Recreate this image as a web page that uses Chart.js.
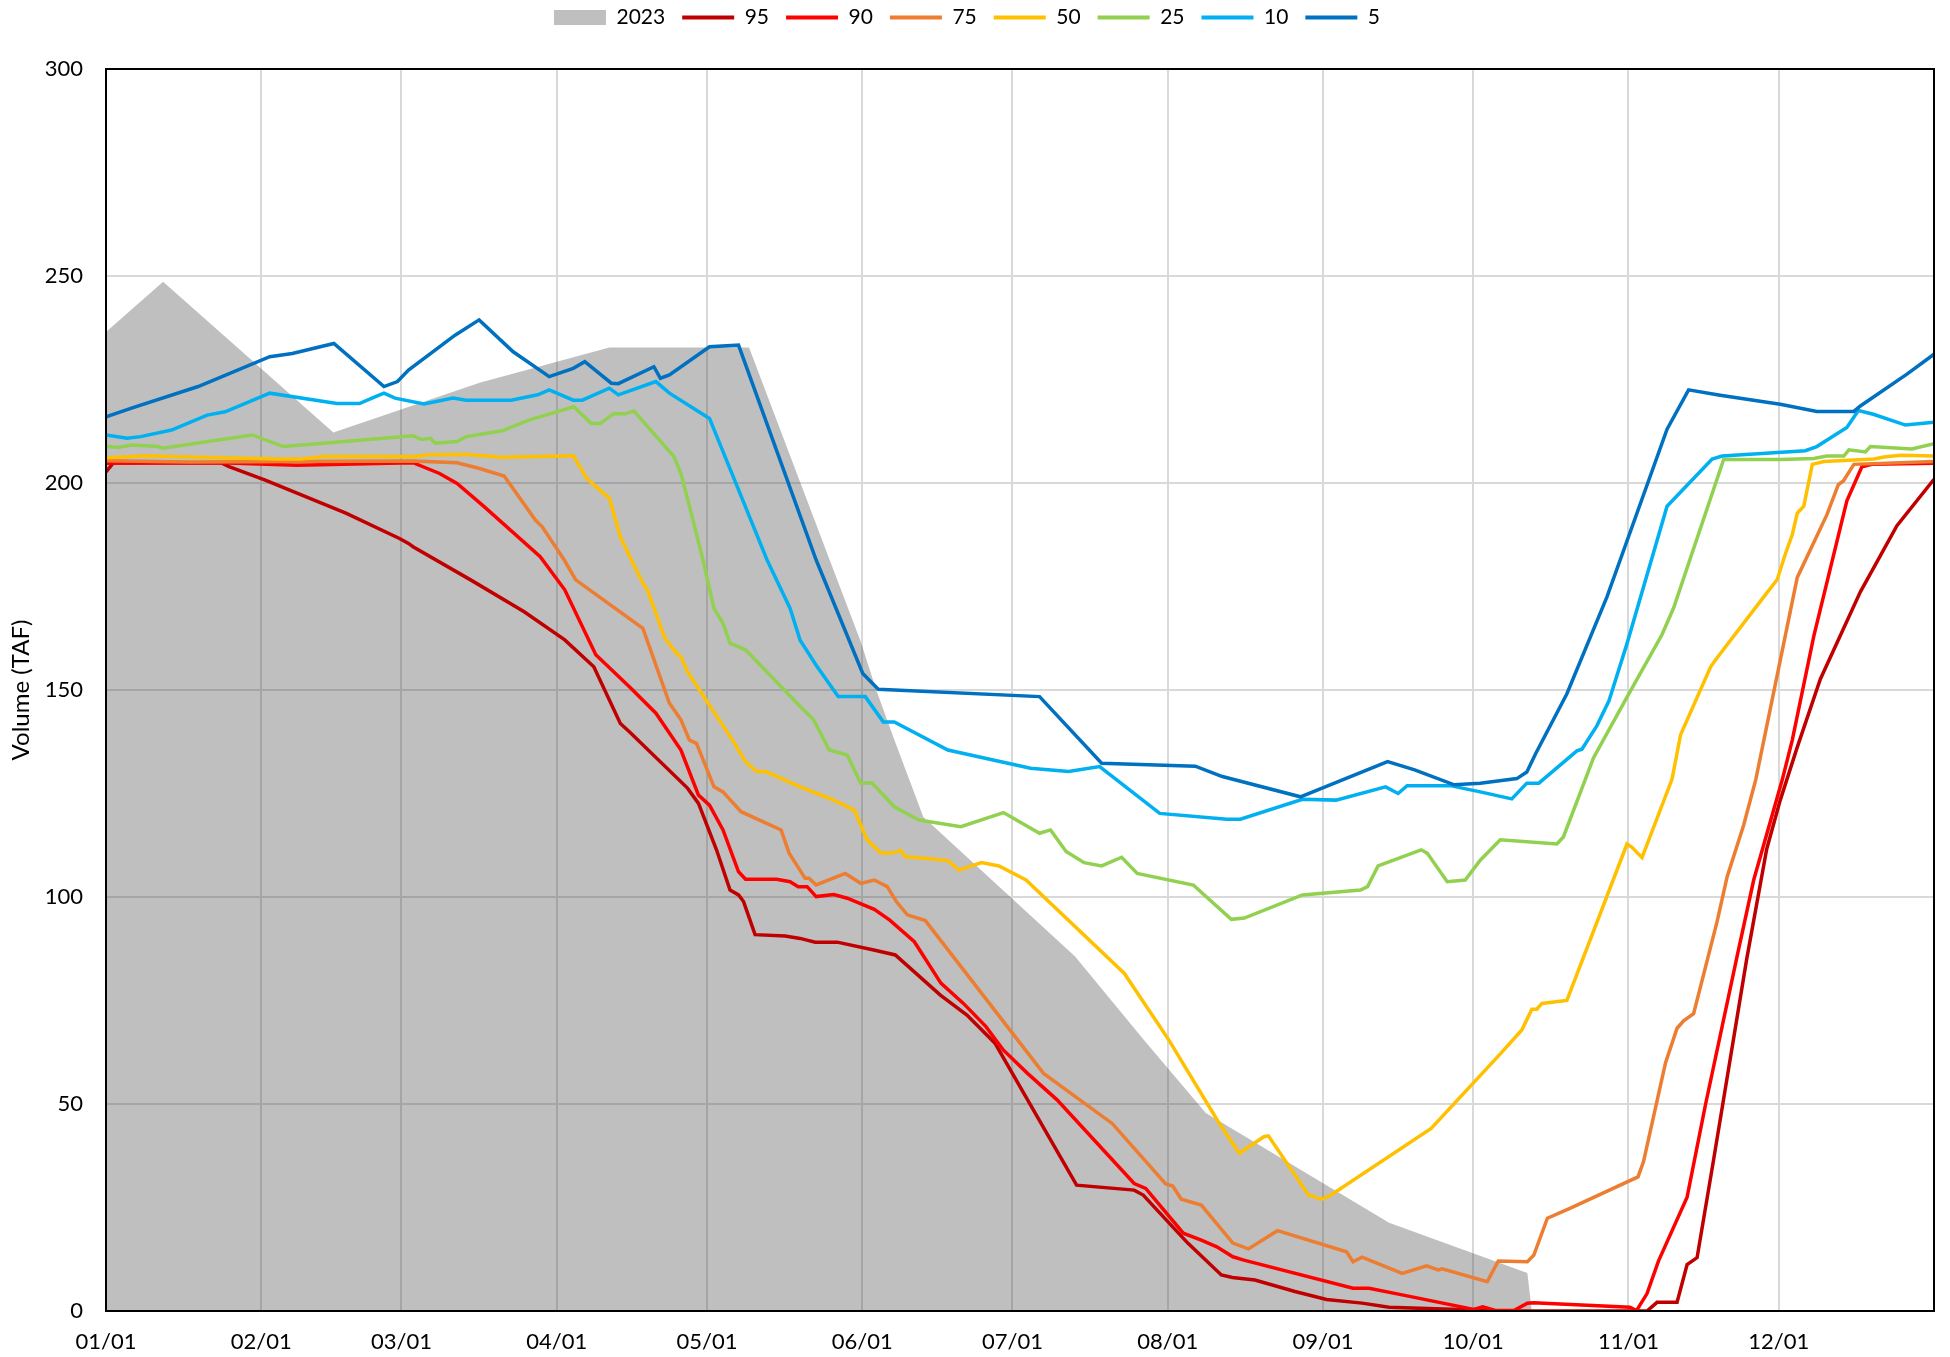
<!DOCTYPE html>
<html>
<head>
<meta charset="utf-8">
<script src="https://cdn.jsdelivr.net/npm/chart.js@4.4.1/dist/chart.umd.min.js"></script>
<style>
  html, body { margin: 0; padding: 0; background: #fff; }
</style>
</head>
<body>
<canvas id="meuGrafico" width="1950" height="1357"></canvas>
<script>
// eixo x em dias desde 01/01
const diasInicioMes = [0, 31, 59, 90, 120, 151, 181, 212, 243, 273, 304, 334];
const rotulosMes = ['01/01', '02/01', '03/01', '04/01', '05/01', '06/01', '07/01', '08/01', '09/01', '10/01', '11/01', '12/01'];

// [dia, volume TAF]
const serie2023 = [[0,236.5],[11.4,248.6],[45.4,212.2],[74.6,224.2],[100.5,232.7],[128.4,232.7],[144.5,181.4],[150.6,162],[153.8,150],[157.4,138],[163.2,119.3],[193.5,85.6],[207.2,65.5],[219.6,47.8],[256.2,21.3],[283.8,9.2],[284.7,0]];

const p95 = [[0,202.7],[1.5,204.9],[22.9,204.9],[24.7,203.9],[31.8,200.7],[47.9,192.7],[58.6,186.6],[60.4,185.4],[61.3,184.6],[72.8,176.6],[83.5,168.9],[91.6,162.1],[97.4,155.6],[102.7,141.9],[104.5,139.9],[116.1,126.3],[118.3,122.6],[121.9,111.4],[124.6,101.7],[126.3,100.5],[127.3,98.9],[129.6,90.9],[135.6,90.6],[138.6,90],[141.6,89.1],[146,89.1],[153.3,87.2],[157.6,86],[166.6,76.3],[171.9,71.5],[177.5,64.7],[193.8,30.4],[205.3,29.2],[207.1,28],[216,16.4],[222.7,8.7],[224.9,8.1],[229.4,7.5],[237.4,4.7],[243.7,2.8],[250.8,1.9],[256.2,0.9],[268.6,0.4],[277.6,0],[307.7,0],[309.7,2.1],[313.7,2.1],[315.7,11.2],[317.7,12.9],[321,36.6],[327.6,85],[331.6,111.6],[334.3,123.4],[337.7,136.2],[342.3,152.6],[350.3,173.7],[357.6,189.7],[365,200.9]];

const p90 = [[0,204.8],[22.9,204.9],[38.1,204.3],[61.3,204.9],[66.6,202.3],[70.1,199.9],[75.5,194.3],[86.7,182.2],[91.6,174.2],[97.8,158.5],[104.5,150.8],[109.8,144.4],[114.8,135.5],[118.3,124.6],[120.5,122.2],[123.2,116.2],[126.3,106.1],[127.7,104.3],[133.9,104.3],[136.6,103.7],[138.2,102.5],[140,102.5],[141.8,100.1],[145.3,100.6],[148,99.7],[153.4,97],[156.5,94.4],[161.4,89.2],[166.7,79.2],[171.2,74.3],[175.7,68.7],[179.2,63],[184,57.4],[189.9,51],[205.3,30.8],[207.6,29.6],[215.1,18.8],[218.7,17.1],[221.8,15.5],[225,13.1],[227.2,12.3],[249,5.5],[252.2,5.5],[258.8,3.9],[273.1,0.4],[274.9,1],[277.6,0.1],[281.1,0.1],[283.8,1.9],[285,2],[304.3,0.9],[305.6,0.1],[307.7,4.2],[310,12.1],[315.7,27.5],[319.4,50],[325.7,85.8],[329,104.1],[334.7,128.3],[336.7,137.9],[341,163],[347.6,195.7],[350.6,203.9],[352.6,204.5],[365,204.8]];

const p75 = [[0,205.4],[16.6,205.1],[61.3,205.3],[70.1,204.9],[74.6,203.5],[79.5,201.7],[85.7,191.1],[87.1,189.4],[91.5,181.4],[93.8,176.6],[107.2,164.9],[112.5,146.8],[114.8,142.8],[116.5,137.9],[117.9,137.1],[121.4,126.6],[123.2,125.4],[126.8,120.6],[134.8,116.2],[136.4,110.6],[139.6,104.5],[140.4,104.5],[141.8,102.9],[147.6,105.7],[150.7,103.3],[153.4,104.1],[156,102.5],[157.8,98.9],[160,95.7],[163.6,94.3],[187.2,57.4],[200.9,45.3],[211.6,30.7],[213,30.2],[214.7,27],[218.7,25.6],[225,16.4],[228.1,15],[233.9,19.4],[247.7,14.3],[249,11.9],[250.8,13],[258.8,9.1],[263.7,10.9],[266,9.9],[266.8,10.2],[275.8,7.1],[278,12.1],[283.8,11.9],[285.1,13.5],[287.8,22.4],[292.3,24.8],[305.9,32.4],[307,36.1],[309.4,49.1],[311.4,60],[313.7,68.3],[315,70.1],[317,71.8],[321.7,94.1],[323.7,104.9],[327,117.4],[329.4,128.3],[337.7,177.2],[343.6,192.3],[345.9,199.6],[346.9,200.5],[349,204.5],[365,205.2]];

const p50 = [[0,206.1],[7.8,206.6],[13.1,206.4],[34.5,205.8],[39,205.8],[43.4,206.4],[61.3,206.4],[64.8,206.8],[71.9,206.9],[79.1,206.2],[93.3,206.6],[96,201.1],[100.5,196.3],[102.7,187],[104.9,181.4],[107.2,175.8],[108.1,174.2],[111.6,162.5],[113.9,158.9],[114.8,158],[116.1,154.4],[125.5,137.1],[127.7,132.7],[129.9,130.3],[131.7,130.3],[138.6,126.6],[145.3,123.4],[149.4,121],[152,113.8],[154.7,110.6],[156.9,110.6],[158.7,111.2],[159.6,109.7],[164,109.3],[168.1,108.8],[170.3,106.5],[174.8,108.3],[178.3,107.5],[183.7,104.1],[203.3,81.6],[212.2,65.5],[222.3,45.3],[226.3,38.1],[231.2,42.1],[232.1,42.3],[240.1,28],[242.8,27],[244.6,28],[264.6,44.1],[278.4,62.1],[282.7,67.9],[284.7,72.9],[285.7,72.9],[286.7,74.3],[291.7,75],[303.7,112.8],[304.7,112],[306.7,109.5],[312.7,128.5],[314.4,139.2],[320.4,155.6],[321.7,157.8],[330.7,172],[333.7,176.7],[335.3,182.8],[336.7,187.5],[337.7,192.7],[339,194.4],[340.7,204.5],[343,205.2],[353,205.8],[355,206.3],[358.3,206.7],[365,206.5]];

const p25 = [[0,208.9],[2.4,208.6],[5.1,209.2],[10.4,208.8],[11.3,208.4],[29.2,211.6],[35.4,208.8],[43.4,209.6],[61.3,211.4],[63,210.5],[64.8,210.8],[65.7,209.6],[70.1,210],[71.9,211.2],[79.1,212.6],[84.4,215.2],[93.4,218.4],[96.9,214.4],[98.7,214.4],[101.4,216.8],[103.6,216.7],[105.4,217.4],[113.4,206.4],[114.8,202.3],[117,192],[119.2,181.4],[121.4,169.7],[123.2,166.1],[124.6,161.3],[127.7,159.7],[138.6,146],[141.3,142.8],[144.4,135.5],[148,134.3],[150.7,127.5],[152.9,127.6],[157.4,121.8],[162.3,118.6],[170.7,117],[179.2,120.4],[186.4,115.4],[188.6,116.2],[191.7,111],[195.3,108.3],[198.8,107.5],[202.8,109.6],[205.9,105.7],[217.1,102.9],[224.7,94.6],[227.3,94.9],[238.9,100.5],[250.5,101.7],[251.9,102.5],[254,107.5],[262.6,111.4],[263.8,110.6],[267.8,103.7],[271.4,104.1],[274.4,108.9],[278.4,113.8],[289.7,112.8],[291,114.5],[295.4,128.5],[297,133.6],[303.7,148.3],[310.7,163.4],[313,169.8],[323,205.7],[334.3,205.7],[341,205.9],[343.6,206.5],[347,206.5],[348,208],[351.3,207.5],[352.3,208.8],[360.6,208.2],[365,209.5]];

const p10 = [[0,211.6],[4.2,210.8],[6.9,211.2],[13.1,212.8],[20.2,216.4],[23.8,217.2],[32.7,221.7],[46.1,219.2],[50.6,219.2],[53.7,220.8],[55.5,221.7],[57.7,220.5],[63.5,219.1],[69.3,220.5],[71.9,220],[80.9,220],[86.2,221.3],[88.5,222.5],[93.3,220],[95.1,220],[100.5,222.9],[102.3,221.3],[109.8,224.5],[112.5,221.7],[120.5,215.6],[132,181.4],[136.6,169.7],[138.6,162],[141.8,156],[146.2,148.4],[151.6,148.4],[155.2,142.3],[157.4,142.3],[168.1,135.5],[184.6,131.1],[192.2,130.3],[198.4,131.5],[210.4,120.2],[223.8,118.8],[226.5,118.8],[238.9,123.6],[245.6,123.4],[255.5,126.6],[258,125],[259.8,126.9],[268.4,126.9],[274.4,125.4],[280.7,123.7],[283.7,127.5],[286.1,127.5],[293.7,135.3],[294.7,135.7],[297.7,141.4],[300.1,147.4],[303.7,161.2],[311.7,194.4],[320.7,205.8],[322.7,206.5],[339.3,207.8],[341.6,208.8],[347.6,213.4],[349.9,217.5],[352.9,216.6],[359.3,214],[365,214.7]];

const p5 = [[0,216],[5.1,218.1],[18.4,223.3],[32.7,230.5],[37.2,231.3],[45.5,233.7],[55.5,223.3],[58.2,224.5],[60.4,227.3],[69.7,235.7],[74.5,239.4],[81.3,231.7],[88.5,225.7],[93.3,227.7],[95.6,229.3],[100.9,224.1],[102.3,224],[109.4,228.1],[110.7,225.3],[112.5,226.1],[120.5,232.9],[126.3,233.3],[141.8,181.4],[151.1,154],[154.2,150.2],[186.4,148.4],[198.8,132.3],[217.5,131.6],[222.9,129.1],[238.5,124.2],[255.9,132.7],[261.3,130.7],[269.2,127.1],[274.4,127.5],[281.7,128.6],[283.7,130.2],[285.4,134.5],[291.7,149.1],[299.7,172.5],[311.7,213],[316,222.5],[322.3,221.2],[334.3,219],[341.6,217.3],[349,217.3],[350.3,218.6],[359.6,226.3],[365,231.1]];

const nomesSeries = ['95', '90', '75', '50', '25', '10', '5'];
const valoresSeries = [p95, p90, p75, p50, p25, p10, p5];
const coresSeries = ['#c00000', '#ff0000', '#ed7d31', '#ffc000', '#92d050', '#00b0f0', '#0070c0'];

const familia = 'Lato, "Liberation Sans", Arial, sans-serif';
const fonteEixo = { family: familia, size: 22 };
const fonteLegenda = { family: familia, size: 21 };
const fonteTitulo = { family: familia, size: 24 };

function paraPontos(lista) {
  return lista.map((p) => ({ x: p[0], y: p[1] }));
}

// moldura preta em volta da area do grafico
const moldura = {
  id: 'moldura',
  afterDatasetsDraw(grafico) {
    const { ctx, chartArea } = grafico;
    ctx.save();
    ctx.strokeStyle = '#000';
    ctx.lineWidth = 2;
    ctx.strokeRect(chartArea.left, chartArea.top, chartArea.right - chartArea.left, chartArea.bottom - chartArea.top);
    ctx.restore();
  },
};

// altura fixa da legenda para o topo do grafico ficar no lugar
const ajusteLegenda = {
  id: 'ajusteLegenda',
  afterInit(grafico) {
    const legenda = grafico.legend;
    const fitOriginal = legenda.fit.bind(legenda);
    legenda.fit = () => {
      fitOriginal();
      legenda.height = 79;
    };
  },
};

function criarGrafico() {
  const canvas = document.getElementById('meuGrafico');
  let contexto = canvas.getContext('2d');

  let conjuntos = [
    {
      label: '2023',
      data: paraPontos(serie2023),
      fill: 'origin',
      backgroundColor: 'rgba(56,56,56,0.32)',
      borderColor: 'rgba(0,0,0,0)',
      borderWidth: 0,
      pointRadius: 0,
      pointStyle: 'rect',
      order: 8,
    },
  ];
  valoresSeries.forEach((serie, i) => {
    conjuntos.push({
      label: nomesSeries[i],
      data: paraPontos(serie),
      borderColor: coresSeries[i],
      backgroundColor: coresSeries[i],
      borderWidth: 3.5,
      pointRadius: 0,
      pointStyle: 'line',
      fill: false,
      tension: 0,
      order: 7 - i,
    });
  });

  let grafico = new Chart(contexto, {
    type: 'line',
    data: { datasets: conjuntos },
    options: {
      responsive: false,
      animation: false,
      devicePixelRatio: 1,
      layout: { padding: { top: -10, right: 16, bottom: 0, left: 0 } },
      plugins: {
        tooltip: { enabled: false },
        legend: {
          position: 'top',
          reverse: true,
          labels: {
            usePointStyle: true,
            pointStyleWidth: 52,
            boxHeight: 15,
            padding: 17,
            color: '#000',
            font: fonteLegenda,
            generateLabels: (g) =>
              Chart.defaults.plugins.legend.labels.generateLabels(g).map((r) => {
                if (r.pointStyle === 'line') r.lineWidth = 4;
                return r;
              }),
          },
        },
      },
      scales: {
        x: {
          type: 'linear',
          min: 0,
          max: 365,
          afterBuildTicks: (eixo) => {
            eixo.ticks = diasInicioMes.map((d) => ({ value: d }));
          },
          afterFit: (eixo) => {
            eixo.height = 46;
          },
          ticks: {
            autoSkip: false,
            maxRotation: 0,
            padding: 18,
            color: '#000',
            font: fonteEixo,
            callback: (valor, indice) => rotulosMes[indice],
          },
          grid: { color: '#d9d9d9', lineWidth: 2, drawTicks: false },
          border: { display: false },
        },
        y: {
          min: 0,
          max: 300,
          afterFit: (eixo) => {
            eixo.width = 106;
          },
          ticks: { stepSize: 50, padding: 23, color: '#000', font: fonteEixo },
          grid: { color: '#d9d9d9', lineWidth: 2, drawTicks: false },
          border: { display: false },
          title: {
            display: true,
            text: 'Volume (TAF)',
            color: '#000',
            font: fonteTitulo,
            padding: { top: 7, bottom: 0 },
          },
        },
      },
    },
    plugins: [moldura, ajusteLegenda],
  });
}

document.addEventListener('DOMContentLoaded', criarGrafico);
</script>
</body>
</html>
